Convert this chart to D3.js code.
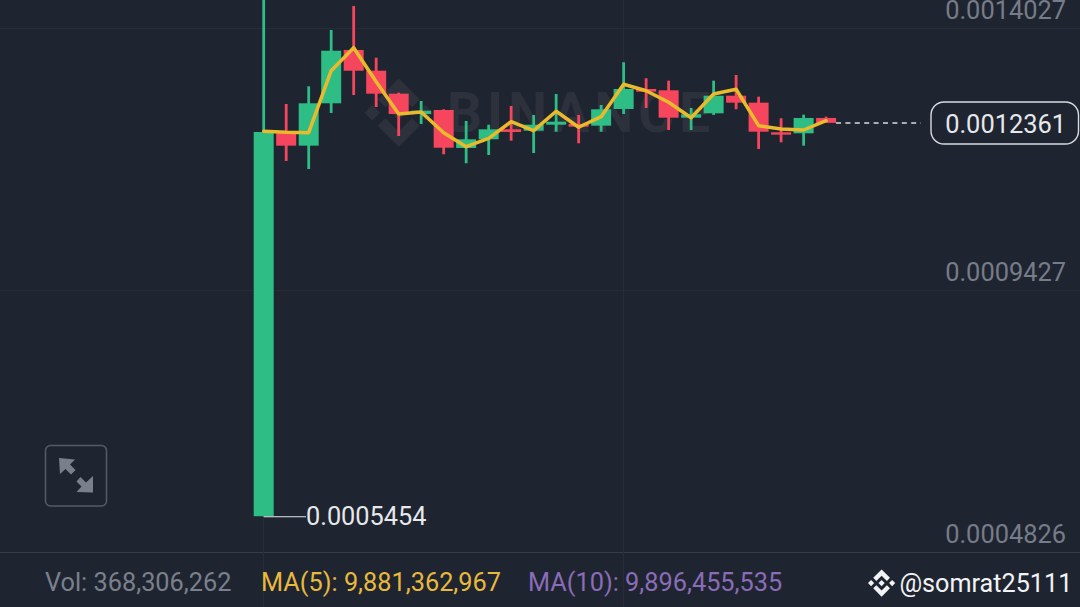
<!DOCTYPE html>
<html><head><meta charset="utf-8">
<script src="https://cdn.jsdelivr.net/npm/d3@7"></script>
<style>html,body{margin:0;padding:0;background:#1f2530;overflow:hidden}svg{display:block;font-family:Roboto,sans-serif}</style>
</head><body><svg id="c" width="1080" height="607"></svg>
<script>
const opens  = [.0005454,.0012219,.0011961,.0012705,.0013641,.0013277,.0012874,.0012517,.0012587,.0011920,.0012073,.0012248,.0012224,.0012329,.0012342,.0012312,.0012605,.0012956,.0012933,.0012452,.0012529,.0012838,.0012716,.0012196,.0012178,.0012447];
const highs  = [.0014600,.0012693,.0013003,.0013992,.0014413,.0013506,.0012891,.0012745,.0012600,.0012394,.0012329,.0012658,.0012500,.0012868,.0012500,.0012675,.0013425,.0013144,.0013102,.0012622,.0013102,.0013202,.0012821,.0012442,.0012505,.0012470];
const lows   = [.0005454,.0011692,.0011551,.0012535,.0012851,.0012640,.0012131,.0012342,.0011810,.0011652,.0011797,.0012048,.0011832,.0012206,.0012003,.0012206,.0012517,.0012622,.0012236,.0012236,.0012500,.0012600,.0011903,.0012020,.0011961,.0012361];
const closes = [.0012201,.0011961,.0012705,.0013628,.0013277,.0012874,.0012517,.0012575,.0011925,.0012073,.0012248,.0012201,.0012329,.0012382,.0012294,.0012600,.0012956,.0012909,.0012452,.0012512,.0012838,.0012716,.0012206,.0012154,.0012447,.0012361];
const ma5    = [.0012213,.0012196,.0012189,.0013277,.0013681,.0013084,.0012517,.0012552,.0012189,.0011943,.0012090,.0012382,.0012224,.0012565,.0012284,.0012470,.0013039,.0012926,.0012723,.0012452,.0012868,.0012951,.0012312,.0012254,.0012236,.0012399];
const priceTicks = [.0014027,.0009427,.0004826];
const gridCandles = [0,16];
const lastPrice = .0012361, lowPrice = .0005454;
const legend = [["Vol: 368,306,262",45,"#7a808c"],["MA(5): 9,881,362,967",261,"#e8b93c"],["MA(10): 9,896,455,535",528,"#8a6cb8"]];
const handle = "@somrat25111";

const fmt = d3.format(".7f");
const GREEN="#2ebd85", RED="#f6465d", BG="#1f2530", GRID="#272c38";
const svg = d3.select("#c");
const x = d3.scaleLinear().domain([0,closes.length-1]).range([263.7,826.1]);
const y = d3.scaleLinear().domain([priceTicks[0],priceTicks[2]]).range([28,552]);
const logoOuter="M38.73 53.2l24.59-24.58 24.6 24.6 14.3-14.31L63.32 0 24.43 38.9zM0 63.31l14.3-14.31 14.31 14.31-14.31 14.3zM38.73 73.41l24.59 24.59 24.6-24.6 14.31 14.29-38.9 38.91-38.91-38.88-.02-.02zM98 63.31l14.3-14.31 14.31 14.3-14.31 14.32z";
const logoInner="M77.83 63.3L63.32 48.78 52.59 59.51l-1.24 1.23-2.54 2.54 14.51 14.5 14.51-14.47z";

// grid
svg.append("g").selectAll("line").data(priceTicks.slice(0,2)).join("line")
  .attr("x1",0).attr("x2",1080).attr("y1",d=>y(d)+.5).attr("y2",d=>y(d)+.5).attr("stroke",GRID);
svg.append("line").attr("x1",0).attr("x2",1080).attr("y1",y(priceTicks[2])+.5).attr("y2",y(priceTicks[2])+.5).attr("stroke","#363c48");
svg.append("g").selectAll("line").data(gridCandles).join("line")
  .attr("x1",d=>Math.floor(x(d))+.5).attr("x2",d=>Math.floor(x(d))+.5).attr("y1",0).attr("y2",607).attr("stroke",GRID);

// watermark
const wm=svg.append("g").attr("fill","#2c313c");
wm.append("g").attr("transform","translate(364.5,78.5) scale(.54)").selectAll("path").data([logoOuter,logoInner]).join("path").attr("d",d=>d);
wm.append("text").attr("x",447).attr("y",132).attr("font-size",55).attr("font-weight",700).attr("letter-spacing",5).text("BINANCE");

// price labels
svg.append("g").selectAll("text").data(priceTicks).join("text")
  .attr("x",1066).attr("y",d=>y(d)-8.7).attr("text-anchor","end").attr("font-size",25.4).attr("fill","#767c88").text(fmt);

// candles
const idx=d3.range(closes.length);
const col=i=>closes[i]>=opens[i]?GREEN:RED;
const g=svg.append("g");
g.selectAll("line").data(idx).join("line")
  .attr("x1",i=>x(i)).attr("x2",i=>x(i)).attr("y1",i=>y(highs[i])).attr("y2",i=>y(lows[i]))
  .attr("stroke",col).attr("stroke-width",2.8);
g.selectAll("rect").data(idx).join("rect")
  .attr("x",i=>x(i)-10).attr("width",20)
  .attr("y",i=>y(Math.max(opens[i],closes[i]))).attr("height",i=>Math.abs(y(opens[i])-y(closes[i])))
  .attr("fill",col);

// MA
svg.append("path").attr("d",d3.line().x(i=>x(i)).y(i=>y(ma5[i]))(idx))
  .attr("fill","none").attr("stroke","#e9bb2c").attr("stroke-width",3.5).attr("stroke-linejoin","round").attr("stroke-linecap","round");

// low label
svg.append("line").attr("x1",x(0)).attr("x2",306).attr("y1",y(lowPrice)+.5).attr("y2",y(lowPrice)+.5).attr("stroke","#e6e8ec").attr("stroke-width",1.2);
svg.append("text").attr("x",306).attr("y",y(lowPrice)+8.5).attr("font-size",25.3).attr("fill","#e6e8ec").text(fmt(lowPrice));

// last price
svg.append("line").attr("x1",836).attr("x2",921).attr("y1",y(lastPrice)).attr("y2",y(lastPrice))
  .attr("stroke","#d8dbe0").attr("stroke-width",1.5).attr("stroke-dasharray","5 4.4");
svg.append("rect").attr("x",931).attr("y",102).attr("width",147.5).attr("height",42).attr("rx",13)
  .attr("fill",BG).attr("stroke","#d8dbe0").attr("stroke-width",1.4);
svg.append("text").attr("x",1066).attr("y",133).attr("text-anchor","end").attr("font-size",25.4).attr("fill","#e6e8ec").text(fmt(lastPrice));

// expand button
svg.append("rect").attr("x",45.5).attr("y",445.5).attr("width",61).attr("height",60.5).attr("rx",5)
  .attr("fill","none").attr("stroke","#555b67").attr("stroke-width",1.5);
svg.append("path").attr("fill","#79808c")
  .attr("d","M59 458L75 459.5L70 464.5L75.5 470L71 474.5L65.5 469L60 474ZM93 492.5L76.5 492L81.5 486.5L76.5 481.5L80.5 477L86 482.5L93 476Z");

// legend
svg.append("g").selectAll("text").data(legend).join("text")
  .attr("x",d=>d[1]).attr("y",591).attr("font-size",25.3).attr("fill",d=>d[2]).text(d=>d[0]);

// handle
const h=svg.append("g").attr("fill","#f2f3f5");
h.append("g").attr("transform","translate(868,569.5) scale(.215)").selectAll("path").data([logoOuter,logoInner]).join("path").attr("d",d=>d);
h.append("text").attr("x",899.5).attr("y",592).attr("font-size",25.2).attr("font-weight",400).text(handle);
</script></body></html>
